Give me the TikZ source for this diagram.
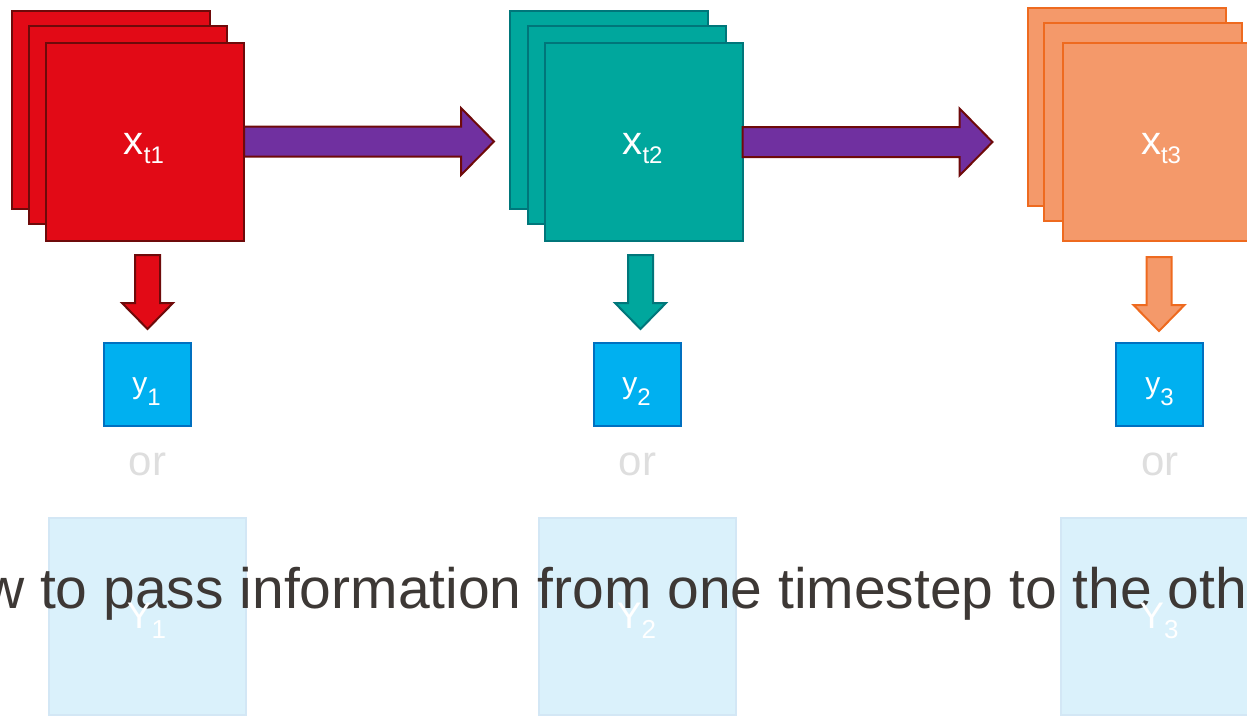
\documentclass[tikz,border=0pt]{standalone}
\usepackage{fontspec}
\setmainfont{Liberation Sans}
\usetikzlibrary{calc}
\definecolor{redF}{HTML}{E20A16}
\definecolor{redD}{HTML}{6E0A0A}
\definecolor{tealF}{HTML}{00A79D}
\definecolor{tealD}{HTML}{00767A}
\definecolor{oraF}{HTML}{F4996A}
\definecolor{oraD}{HTML}{EE6A1F}
\definecolor{purF}{HTML}{7030A0}
\definecolor{bluF}{HTML}{00B0F0}
\definecolor{bluD}{HTML}{0070C0}
\definecolor{ltF}{HTML}{DAF1FB}
\definecolor{ltD}{HTML}{D3E7F5}
\definecolor{orC}{HTML}{DEDEDE}
\definecolor{txtC}{HTML}{3D3835}
\newcommand\xlab[1]{{\fontsize{40}{44}\selectfont x}\raisebox{-9pt}{\fontsize{24}{26}\selectfont t#1}}
\newcommand\ylab[1]{{\fontsize{30}{32}\selectfont y}\raisebox{-12pt}{\fontsize{24}{26}\selectfont #1}}
\newcommand\Ylab[1]{{\fontsize{37}{40}\selectfont Y}\raisebox{-10pt}{\fontsize{26}{28}\selectfont #1}}
\newcommand\rarrow[1]{\draw[parrow] ($(#1)+(0,-15)$) -- ++(217,0) -- ++(0,-18.5) -- ++(33,33.5) -- ++(-33,33.5) -- ++(0,-18.5) -- ++(-217,0) -- cycle;}
\newcommand\darrow[2]{\draw[line width=2pt, line join=miter, #2] ($(#1)+(-12.5,0)$) -- ++(25,0) -- ++(0,48) -- ++(13,0) -- ++(-25.5,26) -- ++(-25.5,-26) -- ++(13,0) -- cycle;}
\tikzset{
  sq/.style={draw, line width=2pt, minimum size=198pt, inner sep=0pt, outer sep=0pt},
  parrow/.style={fill=purF, draw=redD, line width=2pt, line join=miter},
  ybox/.style={fill=bluF, draw=bluD, line width=2pt, minimum width=87pt, minimum height=83pt, inner sep=0pt},
  ltbox/.style={fill=ltF, draw=ltD, line width=2pt, minimum size=197pt, inner sep=0pt},
  lbl/.style={text=white, inner sep=0pt},
  ortext/.style={text=orC, inner sep=0pt, font=\fontsize{42}{46}\selectfont}
}
\begin{document}
\begin{tikzpicture}[x=1pt,y=-1pt]
\useasboundingbox (0,0) rectangle (1247,716);
\clip (0,0) rectangle (1247,716);
% stack 1
\node[sq, fill=redF, draw=redD] (b1) at (110.5,109.5) {};
\node[sq, fill=redF, draw=redD] (m1) at (127.5,124.5) {};
\node[sq, fill=redF, draw=redD] (f1) at (145,141.5) {};
\node[lbl, anchor=base] (xl1) at (144,154) {\xlab{1}};
% stack 2
\node[sq, fill=tealF, draw=tealD] (b2) at (608.5,110) {};
\node[sq, fill=tealF, draw=tealD] (m2) at (626.5,125) {};
\node[sq, fill=tealF, draw=tealD] (f2) at (643.5,142) {};
\node[lbl, anchor=base] (xl2) at (642.5,154) {\xlab{2}};
% stack 3
\node[sq, fill=oraF, draw=oraD] (b3) at (1127,107) {};
\node[sq, fill=oraF, draw=oraD] (m3) at (1142.5,122) {};
\node[sq, fill=oraF, draw=oraD] (f3) at (1162,141.5) {};
\node[lbl, anchor=base] (xl3) at (1161,154) {\xlab{3}};
% horizontal arrows
\rarrow{f1.east}
\rarrow{f2.east}
% down arrows
\coordinate (d1) at (147.5,255);
\coordinate (d2) at (640.5,255);
\coordinate (d3) at (1159,257);
\darrow{d1}{fill=redF, draw=redD}
\darrow{d2}{fill=tealF, draw=tealD}
\darrow{d3}{fill=oraF, draw=oraD}
% y boxes
\node[ybox] (y1) at (147.5,384.5) {};
\node[ybox] (y2) at (637,384.5) {};
\node[ybox] (y3) at (1159.5,384.5) {};
\node[lbl, anchor=base] (yl1) at (146.5,393) {\ylab{1}};
\node[lbl, anchor=base] (yl2) at (636.5,393) {\ylab{2}};
\node[lbl, anchor=base] (yl3) at (1159.5,393) {\ylab{3}};
% or
\node[ortext, anchor=base] (or1) at (147.5,475) {or};
\node[ortext, anchor=base] (or2) at (637.5,475) {or};
\node[ortext, anchor=base] (or3) at (1160,475) {or};
% light boxes
\node[ltbox] (Y1) at (147.5,616) {};
\node[ltbox] (Y2) at (637,616) {};
\node[ltbox] (Y3) at (1159,616) {};
% big text
\node[anchor=base west, inner sep=0pt, text=txtC, font=\fontsize{57}{60}\selectfont] (cap) at (-17,608) {w to pass information from one timestep to the oth};
% Y labels
\node[lbl, anchor=base] (Yl1) at (146.5,628) {\Ylab{1}};
\node[lbl, anchor=base] (Yl2) at (636.5,628) {\Ylab{2}};
\node[lbl, anchor=base] (Yl3) at (1159,628) {\Ylab{3}};
\end{tikzpicture}
\end{document}
